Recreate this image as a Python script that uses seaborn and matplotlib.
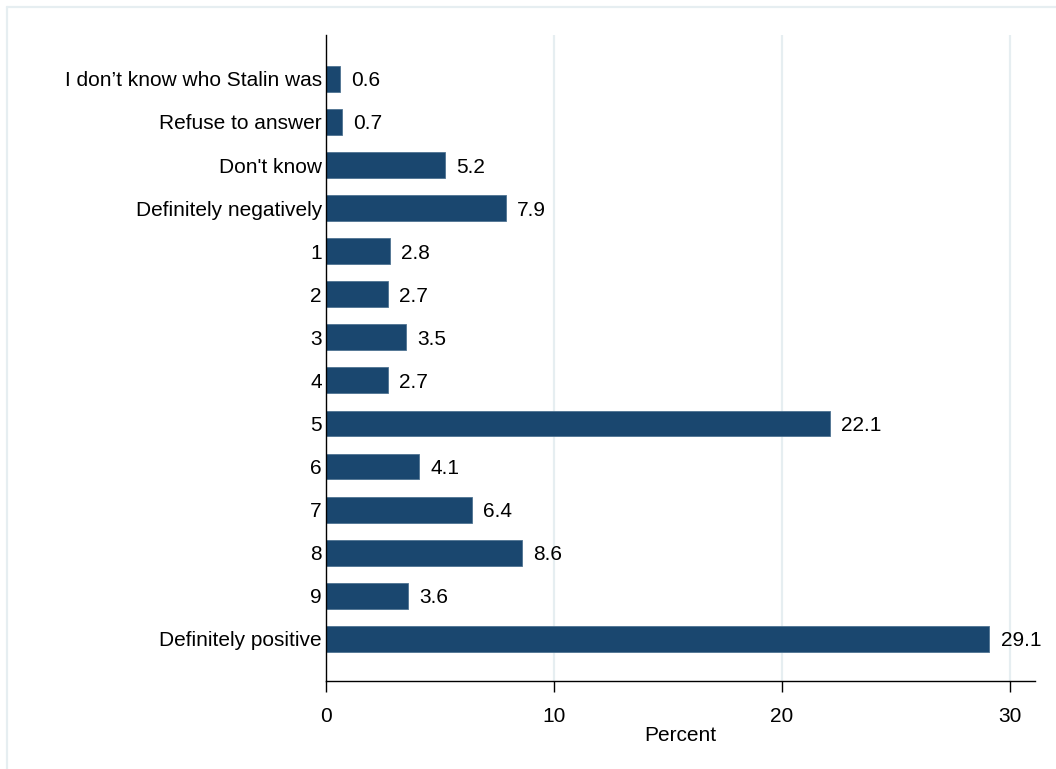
import matplotlib.pyplot as plt
import pandas as pd
import seaborn as sns
from matplotlib.lines import Line2D

categories = ["I don\u2019t know who Stalin was", "Refuse to answer", "Don't know",
              "Definitely negatively", "1", "2", "3", "4", "5", "6", "7", "8", "9",
              "Definitely positive"]
percent = [0.6, 0.7, 5.2, 7.9, 2.8, 2.7, 3.5, 2.7, 22.1, 4.1, 6.4, 8.6, 3.6, 29.1]

df = pd.DataFrame({"Category": categories, "Percent": percent})

sns.set_style("white")
plt.rcParams['font.family'] = ['Liberation Sans', 'DejaVu Sans']
plt.rcParams['text.color'] = 'black'
plt.rcParams['xtick.color'] = 'black'
plt.rcParams['ytick.color'] = 'black'
plt.rcParams['axes.labelcolor'] = 'black'

fig = plt.figure(figsize=(10.56, 7.69), dpi=100)
ax = fig.add_axes([326 / 1056, 1 - 681 / 769, (1035 - 326) / 1056, (681 - 35) / 769])

bar_color = "#1a476f"
sns.barplot(data=df, x="Percent", y="Category", orient="h", color=bar_color,
            width=0.6, edgecolor="#4f7392", linewidth=0.6, saturation=1, ax=ax)

ax.set_xlim(0, 31.1)
ax.set_ylim(13.98, -1.02)

for x in [10, 20, 30]:
    ax.axvline(x, color="#e6eef1", lw=1.6, zorder=0)

labels = ax.bar_label(ax.containers[0], fmt="%.1f", padding=8, fontsize=15)
for t in labels:
    t.set_va("center_baseline")

ax.set_xticks([0, 10, 20, 30])
ax.tick_params(axis="x", bottom=True, length=8, width=1, labelsize=15, pad=11, color="black")
ax.tick_params(axis="y", left=False, length=0, labelsize=15, pad=3)
ax.set_xlabel("Percent", fontsize=15, labelpad=0)
ax.set_ylabel("")

for side in ["top", "right"]:
    ax.spines[side].set_visible(False)
for side in ["left", "bottom"]:
    ax.spines[side].set_color("black")
    ax.spines[side].set_linewidth(1)

# outer graph region border
fig.add_artist(Line2D([7 / 1056, 7 / 1056], [0, 1 - 7 / 769], transform=fig.transFigure,
                      color="#e6eef1", lw=1.6))
fig.add_artist(Line2D([7 / 1056, 1], [1 - 7 / 769, 1 - 7 / 769], transform=fig.transFigure,
                      color="#e6eef1", lw=1.6))

fig.savefig("out.png", dpi=100)
